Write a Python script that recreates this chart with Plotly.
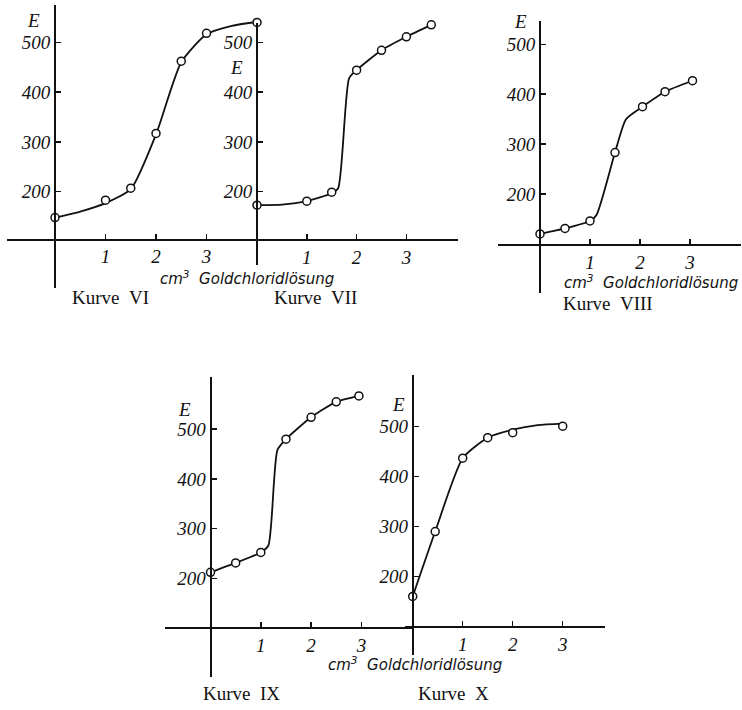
import plotly.graph_objects as go

W, H = 742, 710

# ---------------- data ----------------
# Kurve VI
vi_x = [0, 1, 1.5, 2, 2.5, 3, 4]
vi_e = [148, 183, 207, 317, 462, 518, 540]
vi_curve_x = [0, 0.5, 1, 1.5, 2, 2.5, 3, 3.5, 4]
vi_curve_e = [148, 160, 177, 205, 315, 460, 516, 533, 541]

# Kurve VII
vii_x = [0, 1, 1.5, 2, 2.5, 3, 3.5]
vii_e = [173, 181, 199, 444, 484, 511, 535]
vii_curve_x = [0, 0.5, 1, 1.5, 1.63, 1.85, 2, 2.5, 3, 3.5]
vii_curve_e = [173, 174, 181, 197, 207, 428, 444, 484, 511, 535]

# Kurve VIII
viii_x = [0, 0.5, 1, 1.5, 2.05, 2.5, 3.05]
viii_e = [120, 131, 146, 283, 375, 405, 427]
viii_curve_x = [0, 0.5, 1, 1.13, 1.5, 1.72, 2.05, 2.5, 3.05]
viii_curve_e = [120, 131, 146, 158, 283, 350, 375, 405, 427]

# Kurve IX
ix_x = [0, 0.5, 1, 1.5, 2, 2.5, 2.95]
ix_e = [212, 231, 252, 480, 524, 555, 567]
ix_curve_x = [0, 0.5, 1, 1.15, 1.33, 1.5, 2, 2.5, 2.95]
ix_curve_e = [212, 231, 252, 266, 458, 480, 524, 555, 567]

# Kurve X
x_x = [0, 0.45, 1, 1.5, 2, 3]
x_e = [160, 290, 437, 478, 488, 501]
x_curve_x = [0, 0.45, 1, 1.5, 2, 2.5, 3]
x_curve_e = [160, 290, 437, 478, 494, 503, 506]

y_ticks = [200, 300, 400, 500]
x_ticks = [1, 2, 3]
x_ticktext = ["1", "2", "3"]

captions = ["Kurve\u00a0\u00a0VI", "Kurve\u00a0\u00a0VII", "Kurve\u00a0\u00a0VIII",
            "Kurve\u00a0\u00a0IX", "Kurve\u00a0\u00a0X"]
axis_label = "cm<sup>3</sup>\u00a0\u00a0Goldchloridlösung"
e_label = "E"

# ---------------- layout geometry (pixels) ----------------
panels = [
    dict(data=(vi_x, vi_e, vi_curve_x, vi_curve_e), ox=55, ux=50.5, pax=239.5,
         p200=191.7, s=0.498, yt=5, yb=288, xl=7, xr=258, E=(33, 21)),
    dict(data=(vii_x, vii_e, vii_curve_x, vii_curve_e), ox=257, ux=49.8, pax=240,
         p200=191.7, s=0.498, yt=23, yb=265, xl=232, xr=458, E=(236, 68)),
    dict(data=(viii_x, viii_e, viii_curve_x, viii_curve_e), ox=540, ux=50, pax=245,
         p200=194, s=0.499, yt=21, yb=293, xl=498, xr=741, E=(520, 22)),
    dict(data=(ix_x, ix_e, ix_curve_x, ix_curve_e), ox=210.5, ux=50.3, pax=628,
         p200=578.3, s=0.497, yt=377, yb=677, xl=165, xr=414, E=(184, 409)),
    dict(data=(x_x, x_e, x_curve_x, x_curve_e), ox=412.7, ux=50, pax=627,
         p200=576.5, s=0.4993, yt=375, yb=655, xl=405, xr=605, E=(398, 404)),
]

caption_pos = [(110, 297), (315, 297), (608, 303), (241, 693), (453, 693)]
label_pos = [(247, 278), (651, 282), (415, 664)]

INK = "#111111"
serif_it = dict(family="Liberation Serif", size=19, color=INK, style="italic")

fig = go.Figure()
layout = dict(width=W, height=H, margin=dict(l=0, r=0, t=0, b=0),
              paper_bgcolor="white", plot_bgcolor="rgba(0,0,0,0)",
              showlegend=False, autosize=False)

annotations = []
for i, p in enumerate(panels, start=1):
    xs, es, cx, ce = p["data"]
    xn = "x" if i == 1 else f"x{i}"
    yn = "y" if i == 1 else f"y{i}"
    xkey = "xaxis" if i == 1 else f"xaxis{i}"
    ykey = "yaxis" if i == 1 else f"yaxis{i}"
    xr = [(p["xl"] - p["ox"]) / p["ux"], (p["xr"] - p["ox"]) / p["ux"]]
    yr = [200 + (p["p200"] - p["yb"]) / p["s"], 200 + (p["p200"] - p["yt"]) / p["s"]]
    layout[xkey] = dict(domain=[p["xl"] / W, p["xr"] / W], range=xr, anchor="free",
                        position=1 - p["pax"] / H, showline=True, linewidth=2,
                        linecolor=INK, ticks="inside", ticklen=5, tickwidth=1.5,
                        tickcolor=INK, tickvals=x_ticks, ticktext=x_ticktext,
                        tickfont=serif_it, showgrid=False, zeroline=False,
                        fixedrange=True)
    layout[ykey] = dict(domain=[1 - p["yb"] / H, 1 - p["yt"] / H], range=yr,
                        anchor="free", position=p["ox"] / W, showline=True,
                        linewidth=2.2, linecolor=INK, ticks="inside", ticklen=5,
                        tickwidth=1.5, tickcolor=INK, tickvals=y_ticks,
                        tickfont=serif_it, showgrid=False, zeroline=False,
                        fixedrange=True)
    fig.add_trace(go.Scatter(x=cx, y=ce, mode="lines", xaxis=xn, yaxis=yn,
                             line=dict(color=INK, width=1.8, shape="spline",
                                       smoothing=0.6),
                             cliponaxis=False, hoverinfo="skip"))
    fig.add_trace(go.Scatter(x=xs, y=es, mode="markers", xaxis=xn, yaxis=yn,
                             marker=dict(symbol="circle", size=8, color="white",
                                         line=dict(color=INK, width=1.5)),
                             cliponaxis=False))
    ex, ey = p["E"]
    annotations.append(dict(text=e_label, x=ex / W, y=1 - ey / H, xref="paper",
                            yref="paper", showarrow=False, xanchor="center",
                            yanchor="middle", font=serif_it))
    cxp, cyp = caption_pos[i - 1]
    annotations.append(dict(text=captions[i - 1], x=cxp / W, y=1 - cyp / H,
                            xref="paper", yref="paper", showarrow=False,
                            xanchor="center", yanchor="middle",
                            font=dict(family="Liberation Serif", size=19, color=INK)))

for lx, ly in label_pos:
    annotations.append(dict(text=axis_label, x=lx / W, y=1 - ly / H, xref="paper",
                            yref="paper", showarrow=False, xanchor="center",
                            yanchor="middle",
                            font=dict(family="DejaVu Sans", size=15, color=INK,
                                      style="italic")))

layout["annotations"] = annotations
fig.update_layout(**layout)
fig.write_html("out.html",
               config={"displayModeBar": False, "staticPlot": True},
               post_script="document.body.style.margin='0';"
                           "document.body.style.padding='0';")
